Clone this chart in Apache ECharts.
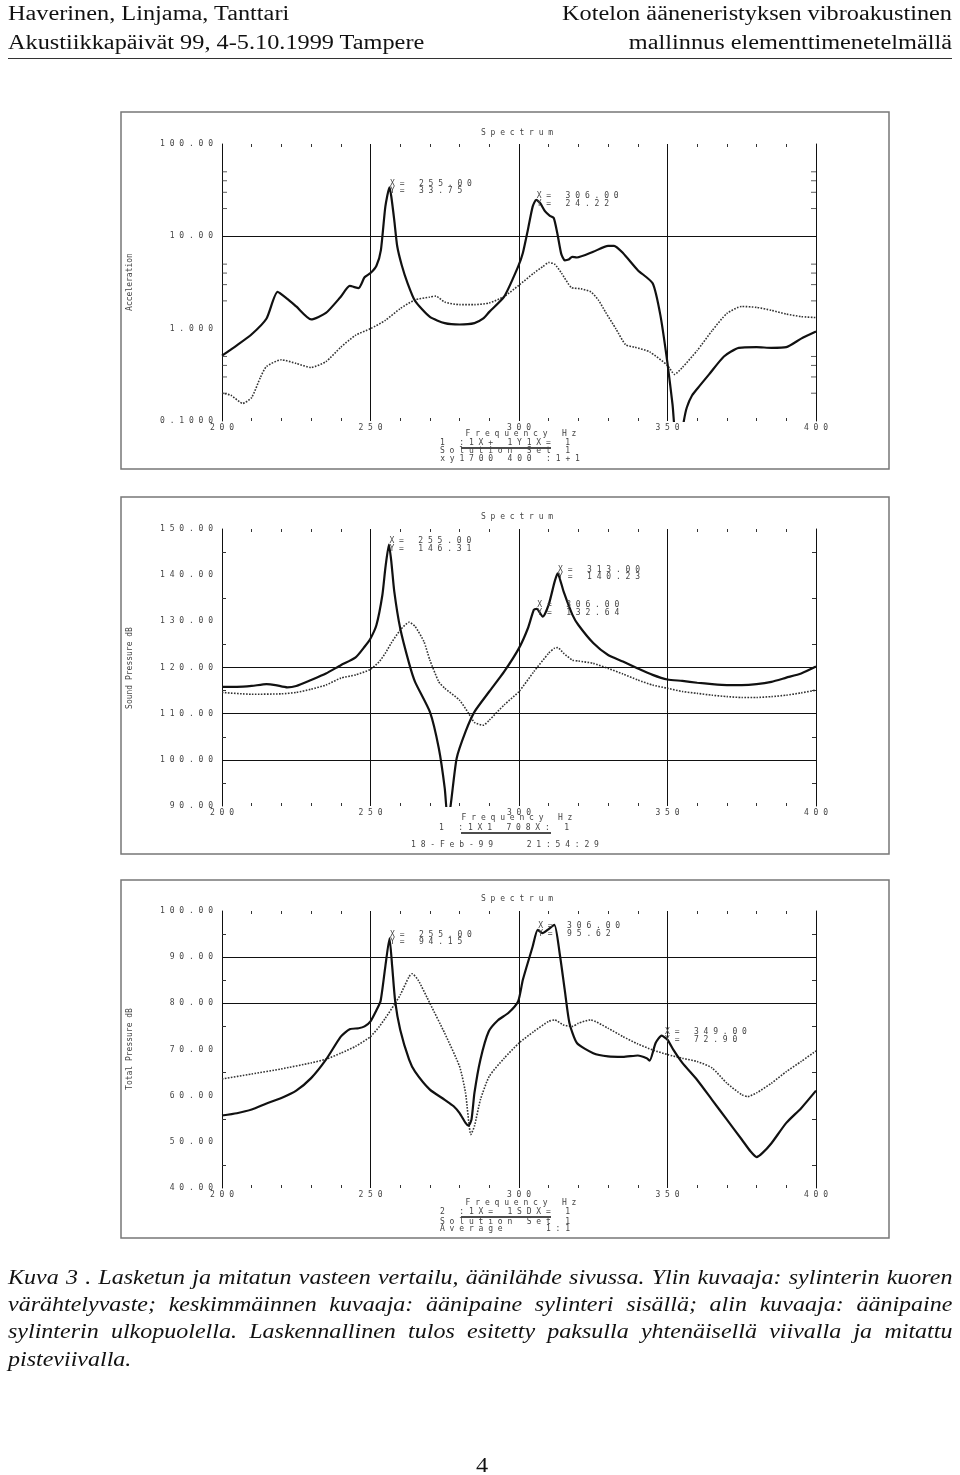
<!DOCTYPE html>
<html>
<head>
<meta charset="utf-8">
<script src="https://cdn.jsdelivr.net/npm/echarts@6.0.0/dist/echarts.min.js"></script>
<style>
  body { margin: 0; background: #fff; }
  #chart { position: absolute; left: 0; top: 0; width: 960px; height: 1475px; }
  .t { position: absolute; font-family: "Liberation Serif", serif; font-size: 20px; color: #111; white-space: nowrap;
       line-height: 26px; transform: scaleX(1.215); transform-origin: left top; }
  .r { transform-origin: right top; }
  .cap { position: absolute; left: 8px; width: 787px; font-family: "Liberation Serif", serif; font-style: italic;
         font-size: 20px; line-height: 27px; color: #111; text-align: justify; text-align-last: justify; white-space: nowrap;
         transform: scaleX(1.2); transform-origin: left top; }
  .cap.last { text-align-last: left; }
  #rule { position: absolute; left: 8px; top: 58px; width: 944px; height: 0; border-top: 1.5px solid #333; }
</style>
</head>
<body>
<div id="chart"></div>
<div class="t" style="left:8px;top:0px">Haverinen, Linjama, Tanttari</div>
<div class="t" style="left:8px;top:29px">Akustiikkapäivät 99, 4-5.10.1999 Tampere</div>
<div class="t r" style="right:8px;top:0px">Kotelon ääneneristyksen vibroakustinen</div>
<div class="t r" style="right:8px;top:29px">mallinnus elementtimenetelmällä</div>
<div id="rule"></div>
<div class="cap" style="top:1264px">Kuva 3 . Lasketun ja mitatun vasteen vertailu, äänilähde sivussa. Ylin kuvaaja: sylinterin kuoren</div>
<div class="cap" style="top:1291px">värähtelyvaste; keskimmäinnen kuvaaja: äänipaine sylinteri sisällä; alin kuvaaja: äänipaine</div>
<div class="cap" style="top:1318px">sylinterin ulkopuolella. Laskennallinen tulos esitetty paksulla yhtenäisellä viivalla ja mitattu</div>
<div class="cap last" style="top:1346px">pisteviivalla.</div>
<div class="t" style="left:476px;top:1452px">4</div>
<script>
// plot 1: vibration response (log scale)
const p1CalcF = [200,205,210,215,218.7,222,225,230,235,240,243,246,248,250,252,253.5,255,256.4,257,258,259,260.5,262.5,265,270,275,280,285,288,290,295,299.7,301.3,303,304.6,305.8,307.1,308.8,310.4,311.7,312.9,314.2,315.4,316.7,317.9,319.5,325,330,332,335,340,345,347.6,350,351.7,353,354.5,355.5,356.5,358.3,360.8,364,369,374,380,385,390,395,400];
const p1CalcV = [0.51,0.66,0.87,1.29,2.5,2.1,1.74,1.26,1.48,2.22,2.9,2.75,3.6,4.0,4.8,7.1,21,34,27,15,7.8,4.9,3.1,2.0,1.34,1.15,1.11,1.15,1.29,1.52,2.22,4.7,6.6,11.8,21,24.9,23,18.6,16.7,15.8,10.8,6.5,5.5,5.6,6.0,5.9,6.8,7.9,7.9,6.6,4.3,3.1,1.4,0.42,0.15,0.06,0.06,0.1,0.14,0.19,0.24,0.32,0.5,0.62,0.63,0.62,0.63,0.78,0.93];
const p1MeasF = [200,203,207,210,213,215,220,225,230,235,240,245,250,255,260,265,270,272,275,280,285,290,295,300,305,308,310,312,314.3,317.6,320.9,324.2,326.7,329.2,332.6,335.9,339,344,350,352.4,355,360,365,370,375,380,385,390,395,400];
const p1MeasV = [0.20,0.19,0.155,0.18,0.30,0.39,0.46,0.42,0.38,0.44,0.63,0.85,1.0,1.23,1.65,2.05,2.2,2.25,1.94,1.82,1.82,1.9,2.23,2.96,4.0,4.7,5.2,5.0,4.0,2.8,2.7,2.5,2.05,1.5,1.0,0.67,0.63,0.56,0.40,0.32,0.38,0.58,0.95,1.46,1.74,1.70,1.58,1.44,1.35,1.32];
const p1TickLabels = ['0.1000','1.000','10.00','100.00'];
const p1HLines = [10];
const p1LogMinor = [0.2,0.3,0.4,0.5,2,3,4,5,20,30,40,50];
const p1MarkF = [256.4, 305.8];
const p1MarkV = [34, 24.9];
const p1MarkText = [['255.00','33.75'],['306.00','24.22']];

// plot 2: sound pressure inside the cylinder
const p2CalcF = [200,205,210,215,218,222,225,230,235,240,245,248,250,252,254,255,256.2,257,258,260,263,265,270,273,275,276,277,279,282,285,290,295,300,303,305,306,308,310,312,313,315,318,320,325,330,335,340,345,350,355,360,365,370,375,380,385,390,395,400];
const p2CalcV = [115.8,115.8,116.0,116.4,116.2,115.7,116.0,117.3,118.7,120.5,122.2,124.5,126.3,129.2,135.7,141.5,146.6,143.0,136.5,128.5,120.9,116.9,110.4,102.5,93.8,87,90.2,100.3,106.1,110.4,114.8,119.1,124.2,128.5,132.5,132.7,131.0,133.6,138.6,140.4,136.5,131.4,129.2,125.3,122.7,121.3,119.8,118.4,117.4,117.1,116.7,116.4,116.2,116.2,116.4,116.9,117.8,118.7,120.2];
const p2MeasF = [200,210,220,225,230,235,240,245,250,253,255,257,260,263,265,268,270,273,275,280,283,285,288,290,295,300,305,310,312,313,315,318,320,325,330,335,340,345,350,355,360,365,370,375,380,385,390,395,400];
const p2MeasV = [114.6,114.2,114.3,114.6,115.3,116.2,117.7,118.4,119.6,121.3,123.1,125.3,128.1,129.8,128.9,125.6,121.6,116.9,115.5,112.9,110.1,108.1,107.5,108.6,111.9,114.8,119.1,123.1,124.2,124.3,123.1,121.6,121.4,120.9,119.8,118.6,117.3,116.2,115.5,114.8,114.4,114.0,113.7,113.5,113.5,113.7,114.0,114.5,115.1];
const p2HLines = [120, 110, 100];
const p2MarkF = [256.2, 313, 306];
const p2MarkV = [146.6, 140.4, 132.7];
const p2MarkText = [['255.00','146.31'],['313.00','140.23'],['306.00','132.64']];

// plot 3: sound pressure outside the cylinder
const p3CalcF = [200,205,210,215,220,225,230,235,240,243,246,248,250,252,253.4,255,256.4,257.3,258.3,260,263,265,270,275,278,280,282,283,284,285,287,289.8,293,296.4,299.7,301.3,304.6,306.3,307.9,309.6,311.9,313.7,315.4,317,319.5,325,330,335,340,343,344,346,348,350,352,355,360,365,370,375,378,380,382,385,390,395,400];
const p3CalcV = [55.7,56.2,57.0,58.3,59.5,61.1,63.8,67.8,72.8,74.4,74.6,75.0,76.1,78.5,80.5,88,94.1,88,80.5,74.3,67.8,65.2,61.3,59.1,57.7,56.2,54.1,53.5,54.8,60.6,67.8,73.9,76.4,77.9,80.4,85.1,92.3,95.9,95.2,95.9,97.0,90.8,82.9,75.7,71.4,69.2,68.5,68.4,68.7,68.1,67.6,71.4,73.0,72.1,69.9,67.1,63.4,59.1,54.8,50.5,47.9,46.7,47.6,49.7,54.1,57.3,61.1];
const p3MeasF = [200,210,220,230,235,240,245,250,253,255,258,260,263,264,266,270,275,280,282,283.8,285,287,290,295,300,305,310,312,315,318,320,324,330,335,340,345,350,355,360,365,370,375,377,380,385,390,395,400];
const p3MeasV = [63.6,64.7,65.8,67.1,67.9,69.2,70.7,72.8,75.0,76.8,79.7,81.8,85.8,86.4,85.1,80.0,73.5,66.3,60.6,51.6,53.4,59.1,64.2,68.1,71.4,73.9,76.1,76.4,75.3,75.0,75.7,76.4,74.6,72.8,71.2,69.9,68.9,68.1,67.4,66.0,62.7,60.2,59.8,60.6,62.7,65.2,67.4,69.7];
const p3HLines = [90, 80];
const p3MarkF = [256.4, 306.3, 349];
const p3MarkV = [94.1, 95.9, 72.9];
const p3MarkText = [['255.00','94.15'],['306.00','95.62'],['349.00','72.90']];

const MONO = '"DejaVu Sans Mono", monospace';
const INK = '#111';
const GREY = '#444';
const sp = s => s.split('').join(' ');
const pair = (f, v) => f.map((x, i) => [x, v[i]]);

const grids = [
  { left: 222, top: 144, width: 594, height: 277 },
  { left: 222, top: 529, width: 594, height: 277 },
  { left: 222, top: 911, width: 594, height: 277 }
];

const xAxes = [];
grids.forEach((g, i) => {
  xAxes.push({
    type: 'value', gridIndex: i, min: 200, max: 400, interval: 50, position: 'bottom',
    axisLine: { show: false },
    axisTick: { show: false, inside: true },
    minorTick: { show: true, splitNumber: 5, length: 3, lineStyle: { color: '#333', width: 1 } },
    splitLine: { show: true, lineStyle: { color: INK, width: 1 } },
    axisLabel: { margin: 3, color: GREY, fontFamily: MONO, fontSize: 8, formatter: v => sp(String(v)) }
  });
  xAxes.push({
    type: 'value', gridIndex: i, min: 200, max: 400, interval: 50, position: 'top',
    axisLine: { show: false },
    axisTick: { show: false, inside: true },
    minorTick: { show: true, splitNumber: 5, length: 3, lineStyle: { color: '#333', width: 1 } },
    splitLine: { show: false },
    axisLabel: { show: false }
  });
});

const yLabel = { margin: 9, color: GREY, fontFamily: MONO, fontSize: 8 };
const linY = (i, min, max) => [
  {
    type: 'value', gridIndex: i, min: min, max: max, interval: 10, position: 'left',
    axisLine: { show: true, lineStyle: { color: INK } },
    axisTick: { show: false, inside: true },
    minorTick: { show: true, splitNumber: 2, length: 4, lineStyle: { color: '#333' } },
    splitLine: { show: false },
    axisLabel: Object.assign({ formatter: v => sp(v.toFixed(2)) }, yLabel)
  },
  {
    type: 'value', gridIndex: i, min: min, max: max, interval: 10, position: 'right',
    axisLine: { show: true, lineStyle: { color: INK } },
    axisTick: { show: false, inside: true },
    minorTick: { show: true, splitNumber: 2, length: 4, lineStyle: { color: '#333' } },
    splitLine: { show: false },
    axisLabel: { show: false }
  }
];

const yAxes = [
  {
    type: 'log', logBase: 10, gridIndex: 0, min: 0.1, max: 100, position: 'left',
    axisLine: { show: true, lineStyle: { color: INK } },
    axisTick: { show: false },
    splitLine: { show: false },
    axisLabel: Object.assign({ formatter: v => sp(p1TickLabels[Math.round(Math.log10(v)) + 1] || '') }, yLabel)
  },
  {
    type: 'log', logBase: 10, gridIndex: 0, min: 0.1, max: 100, position: 'right',
    axisLine: { show: true, lineStyle: { color: INK } },
    axisTick: { show: false }, splitLine: { show: false }, axisLabel: { show: false }
  },
  ...linY(1, 90, 150),
  ...linY(2, 40, 100)
];

function markPoints(fs, vs, texts) {
  return {
    symbol: 'circle', symbolSize: 1, itemStyle: { color: 'rgba(0,0,0,0)' }, silent: true,
    label: {
      show: true, position: 'right', distance: 0, color: GREY, fontFamily: MONO, fontSize: 8, lineHeight: 7.5,
      formatter: p => sp('X= ' + texts[p.dataIndex][0]) + '\n' + sp('Y= ' + texts[p.dataIndex][1])
    },
    data: fs.map((f, i) => ({ coord: [f, vs[i]] }))
  };
}

function hLines(vals) {
  return {
    symbol: 'none', silent: true, label: { show: false },
    lineStyle: { color: INK, width: 1, type: 'solid' },
    data: vals.map(v => ({ yAxis: v }))
  };
}

function calcSeries(i, f, v, hl, mf, mv, mt) {
  return {
    type: 'line', xAxisIndex: i * 2, yAxisIndex: i * 2, data: pair(f, v), showSymbol: false, smooth: 0.2,
    lineStyle: { color: INK, width: 2.2 }, z: 3,
    markLine: hLines(hl), markPoint: markPoints(mf, mv, mt)
  };
}
function measSeries(i, f, v) {
  return {
    type: 'line', xAxisIndex: i * 2, yAxisIndex: i * 2, data: pair(f, v), showSymbol: false, smooth: 0.2,
    lineStyle: { color: '#333', width: 1.6, type: [1.6, 1.4] }, z: 2
  };
}
function logTicks(x, off) {
  return {
    type: 'scatter', xAxisIndex: 0, yAxisIndex: 0, silent: true, symbol: 'rect', symbolSize: [5, 1],
    symbolOffset: [off, 0], itemStyle: { color: '#333' }, data: p1LogMinor.map(v => [x, v])
  };
}

const series = [
  measSeries(0, p1MeasF, p1MeasV),
  calcSeries(0, p1CalcF, p1CalcV, p1HLines, p1MarkF, p1MarkV, p1MarkText),
  logTicks(200, 2.5), logTicks(400, -2.5),
  measSeries(1, p2MeasF, p2MeasV),
  calcSeries(1, p2CalcF, p2CalcV, p2HLines, p2MarkF, p2MarkV, p2MarkText),
  measSeries(2, p3MeasF, p3MeasV),
  calcSeries(2, p3CalcF, p3CalcV, p3HLines, p3MarkF, p3MarkV, p3MarkText)
];

const txt = (x, y, s, rot) => ({
  type: 'text', x: x, y: y, rotation: rot || 0, silent: true,
  style: { text: rot ? s : sp(s), font: '8px ' + MONO, fill: GREY, textAlign: 'center', textVerticalAlign: 'middle' }
});
const rule = (x1, x2, y) => ({
  type: 'line', silent: true, shape: { x1: x1, y1: y, x2: x2, y2: y }, style: { stroke: INK, lineWidth: 1.5 }
});
const box = (y, h) => ({
  type: 'rect', silent: true, shape: { x: 121, y: y, width: 768, height: h }, style: { fill: 'none', stroke: '#777', lineWidth: 1.5 }
});

const graphic = [
  box(112, 357), box(497, 357), box(880, 358),
  txt(517, 133, 'Spectrum'),
  txt(130, 282, 'Acceleration', Math.PI / 2),
  txt(521, 434, 'Frequency Hz'),
  txt(505, 443, '1 :1X+ 1Y1X= 1'), rule(461, 551, 448),
  txt(505, 451, 'Solution Set 1'),
  txt(510, 459, 'xy1700 400 :1+1'),

  txt(517, 517, 'Spectrum'),
  txt(130, 668, 'Sound Pressure dB', Math.PI / 2),
  txt(517, 818, 'Frequency Hz'),
  txt(504, 828, '1 :1X1 708X: 1'), rule(461, 551, 833),
  txt(505, 845, '18-Feb-99   21:54:29'),

  txt(517, 899, 'Spectrum'),
  txt(130, 1049, 'Total Pressure dB', Math.PI / 2),
  txt(521, 1203, 'Frequency Hz'),
  txt(505, 1212, '2 :1X= 1SDX= 1'), rule(461, 551, 1217),
  txt(505, 1222, 'Solution Set 1'),
  txt(505, 1229, 'Average    1:1')
];

const chart = echarts.init(document.getElementById('chart'), null, { renderer: 'canvas' });
chart.setOption({
  animation: false,
  backgroundColor: 'transparent',
  grid: grids,
  xAxis: xAxes,
  yAxis: yAxes,
  series: series,
  graphic: graphic
});
</script>
</body>
</html>
